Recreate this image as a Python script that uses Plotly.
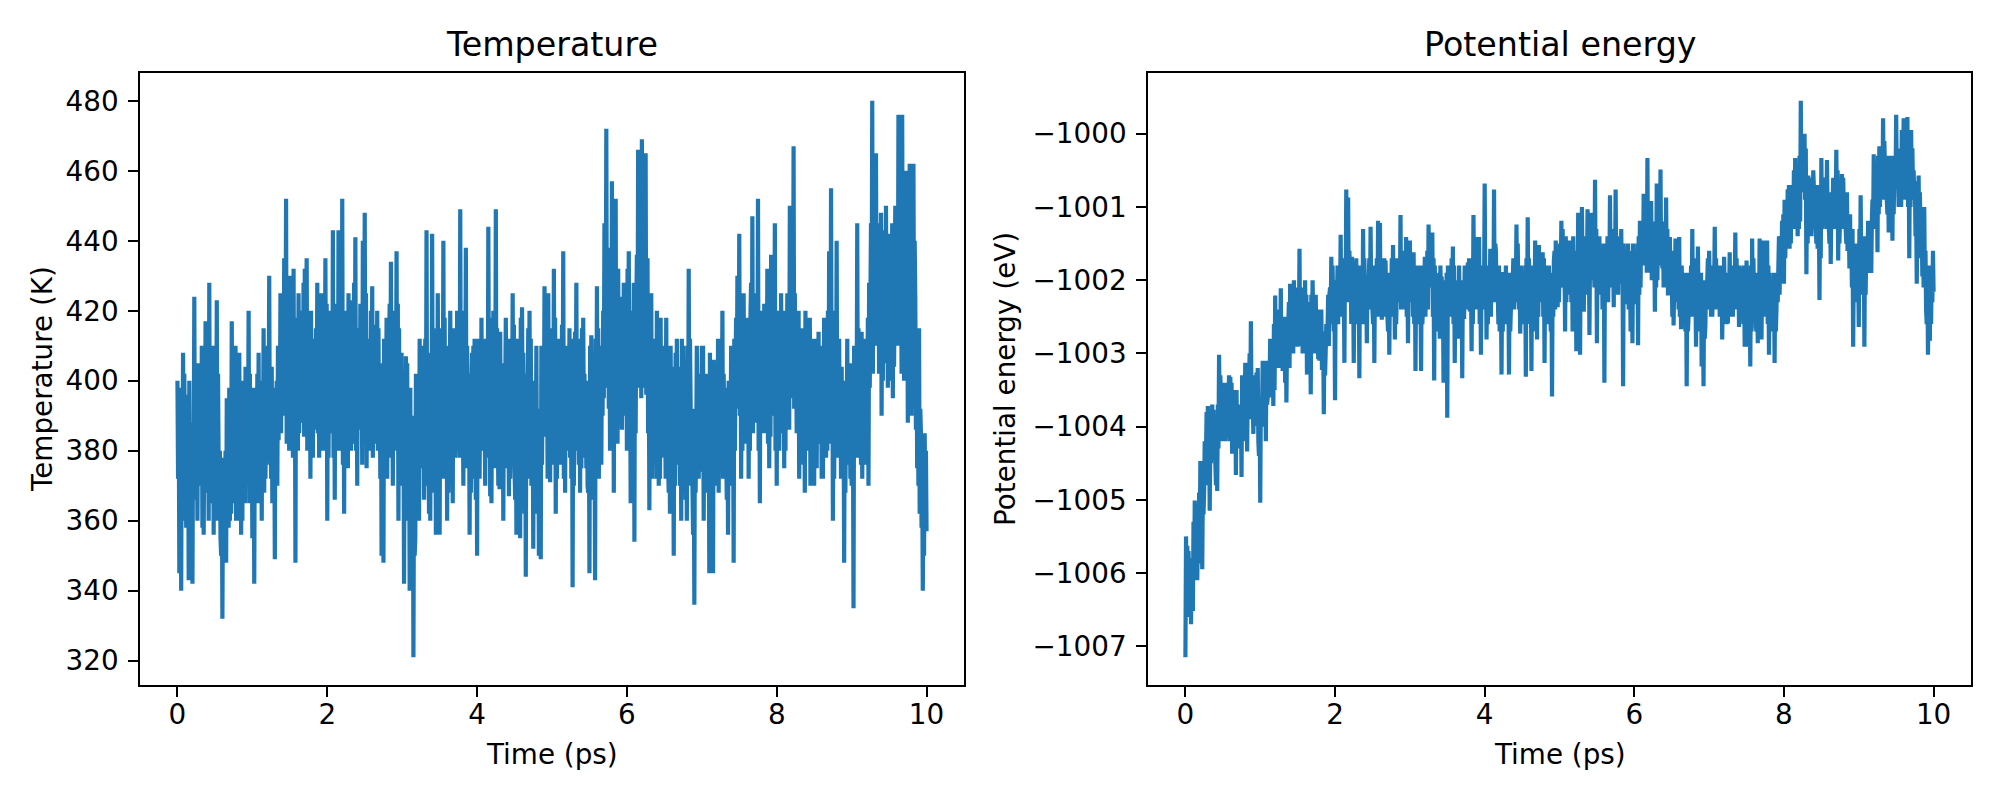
import plotly.graph_objects as go

# Temperature (K) read every 0.025 ps (t = 0, 0.025, ..., 10): local extremes
temperature_K = [
    400, 345, 340, 408, 360, 392, 343, 372, 342, 424,
    370, 405, 372, 410, 356, 417, 372, 428, 378, 410,
    372, 423, 375, 355, 332, 372, 348, 385, 360, 417,
    365, 410, 360, 408, 356, 400, 365, 398, 420, 375,
    355, 342, 378, 365, 385, 360, 415, 372, 405, 430,
    372, 388, 349, 400, 383, 425, 390, 435, 452, 402,
    430, 390, 432, 348, 405, 385, 420, 395, 432, 435,
    385, 372, 410, 390, 415, 385, 390, 425, 380, 435,
    360, 405, 390, 443, 366, 420, 443, 380, 452, 362,
    420, 375, 410, 423, 385, 441, 370, 415, 392, 440,
    448, 375, 410, 380, 427, 385, 415, 380, 400, 350,
    348, 400, 372, 410, 434, 370, 412, 437, 360, 400,
    370, 342, 407, 360, 340, 380, 321, 355, 385, 360,
    410, 375, 390, 443, 385, 360, 442, 375, 356, 425,
    356, 400, 440, 380, 360, 410, 390, 365, 410, 380,
    420, 449, 385, 420, 438, 395, 356, 395, 410, 380,
    350, 400, 385, 410, 390, 380, 444, 367, 400, 375,
    449, 390, 369, 400, 360, 395, 412, 367, 390, 425,
    375, 356, 400, 355, 421, 380, 344, 395, 420, 370,
    352, 388, 365, 350, 349, 400, 427, 385, 425, 371,
    400, 432, 362, 405, 412, 380, 437, 368, 398, 385,
    410, 341, 395, 428, 398, 368, 415, 390, 400, 370,
    345, 413, 385, 343, 427, 372, 405, 390, 445, 472,
    425, 380, 457, 368, 452, 382, 410, 400, 390, 420,
    380, 437, 365, 400, 354, 420, 466, 400, 469, 410,
    465, 435, 363, 425, 408, 380, 420, 370, 418, 385,
    385, 418, 375, 362, 404, 350, 408, 380, 395, 360,
    410, 385, 360, 432, 395, 370, 336, 380, 390, 375,
    410, 360, 400, 380, 345, 388, 345, 395, 405, 368,
    390, 420, 385, 380, 356, 395, 375, 348, 405, 430,
    442, 372, 400, 412, 385, 372, 420, 447, 390, 420,
    452, 365, 400, 385, 396, 432, 375, 436, 390, 445,
    370, 405, 385, 400, 375, 420, 395, 450, 420, 467,
    395, 400, 372, 410, 385, 368, 405, 418, 370, 395,
    370, 406, 385, 400, 372, 395, 415, 380, 437, 455,
    360, 400, 440, 380, 402, 375, 348, 395, 380, 400,
    370, 335, 400, 445, 390, 376, 400, 376, 412, 370,
    420, 480, 415, 465, 410, 445, 390, 443, 420, 440,
    400, 420, 395, 432, 445, 476, 410, 476, 400, 460,
    388, 462, 390, 462, 423, 375, 415, 385, 340, 385,
    357,
]

# Temperature (K): two in-between readings inside each 0.025 ps step
temperature_fill_K = [
    (372, 398), (355, 385), (398, 370), (362, 402), (390, 358), (375, 396), (400, 365), (352, 388), (385, 372), (366, 405),
    (392, 360), (370, 388), (404, 372), (358, 392), (386, 368), (372, 400), (398, 360), (365, 385), (400, 372), (356, 395),
    (390, 370), (360, 402), (368, 380), (350, 378), (372, 355), (362, 380), (395, 368), (358, 398), (388, 362), (375, 390),
    (402, 370), (360, 388), (396, 374), (370, 400), (386, 360), (366, 394), (404, 375), (388, 378), (365, 402), (370, 386),
    (360, 398), (392, 372), (378, 402), (408, 366), (370, 396), (400, 380), (368, 408), (396, 376), (410, 384), (380, 398),
    (404, 365), (376, 392), (398, 378), (370, 410), (402, 385), (385, 415), (408, 390), (420, 395), (382, 425), (412, 380),
    (390, 420), (410, 378), (382, 412), (418, 392), (380, 425), (415, 392), (388, 410), (428, 384), (395, 418), (380, 415),
    (392, 412), (420, 388), (378, 410), (412, 395), (386, 428), (408, 378), (425, 392), (380, 405), (418, 390), (388, 422),
    (412, 378), (392, 420), (410, 385), (378, 415), (422, 392), (415, 380), (390, 426), (408, 386), (376, 412), (420, 395),
    (385, 410), (425, 390), (412, 380), (388, 418), (428, 382), (380, 408), (415, 392), (386, 422), (410, 376), (420, 392),
    (392, 425), (412, 380), (385, 408), (420, 390), (378, 416), (410, 388), (382, 420), (415, 382), (372, 405), (368, 395),
    (412, 375), (388, 418), (408, 382), (422, 392), (378, 412), (420, 388), (410, 395), (380, 422), (415, 376), (372, 408),
    (375, 398), (396, 368), (365, 405), (372, 392), (398, 356), (345, 390), (378, 350), (402, 372), (366, 395), (412, 378),
    (380, 410), (400, 366), (412, 378), (370, 400), (362, 395), (408, 380), (376, 415), (368, 398), (400, 370), (382, 412),
    (405, 372), (415, 385), (372, 418), (380, 400), (402, 368), (385, 420), (370, 396), (415, 380), (378, 405), (420, 386),
    (408, 378), (388, 420), (402, 370), (418, 390), (375, 410), (382, 402), (398, 368), (408, 385), (372, 412), (366, 398),
    (412, 380), (372, 405), (418, 388), (380, 402), (370, 412), (405, 378), (388, 418), (398, 365), (378, 420), (408, 382),
    (385, 415), (370, 398), (414, 380), (372, 405), (402, 375), (418, 386), (376, 400), (412, 372), (405, 388), (382, 416),
    (366, 398), (412, 380), (370, 402), (418, 384), (384, 408), (362, 400), (402, 378), (415, 385), (372, 412), (376, 395),
    (400, 365), (378, 410), (362, 392), (372, 385), (410, 376), (402, 388), (384, 418), (408, 372), (380, 412), (415, 385),
    (402, 376), (386, 418), (412, 372), (405, 388), (376, 410), (416, 385), (372, 402), (410, 380), (384, 405), (415, 378),
    (372, 412), (400, 370), (414, 386), (380, 405), (376, 412), (405, 375), (386, 418), (402, 378), (375, 400), (368, 396),
    (410, 372), (382, 402), (366, 400), (412, 378), (385, 415), (402, 382), (376, 410), (420, 395), (430, 400), (398, 438),
    (392, 420), (425, 385), (398, 430), (418, 392), (385, 428), (432, 398), (395, 418), (386, 424), (428, 400), (392, 420),
    (432, 395), (385, 420), (418, 392), (398, 428), (422, 385), (436, 402), (398, 425), (440, 395), (402, 432), (420, 398),
    (396, 430), (385, 408), (412, 380), (372, 410), (380, 402), (412, 372), (385, 408), (400, 372), (378, 410), (406, 380),
    (408, 372), (380, 402), (368, 398), (410, 380), (372, 396), (402, 370), (384, 412), (398, 376), (370, 404), (412, 380),
    (378, 400), (366, 395), (410, 372), (382, 412), (370, 392), (356, 388), (392, 368), (410, 380), (372, 398), (402, 374),
    (380, 410), (398, 368), (372, 402), (376, 395), (408, 370), (366, 400), (406, 378), (398, 380), (370, 412), (400, 378),
    (412, 385), (372, 402), (378, 398), (366, 395), (400, 372), (382, 410), (370, 395), (412, 380), (418, 392), (425, 395),
    (390, 420), (412, 380), (425, 392), (382, 410), (388, 418), (412, 380), (428, 395), (385, 420), (414, 388), (425, 400),
    (380, 415), (420, 388), (392, 412), (422, 385), (415, 395), (382, 425), (412, 384), (390, 418), (428, 392), (380, 410),
    (420, 388), (380, 412), (425, 392), (388, 408), (420, 380), (394, 425), (418, 386), (398, 430), (428, 395), (392, 425),
    (412, 385), (388, 420), (410, 378), (382, 415), (376, 405), (420, 390), (412, 380), (385, 418), (408, 376), (388, 412),
    (412, 380), (375, 405), (414, 382), (384, 410), (405, 372), (418, 385), (378, 412), (420, 390), (412, 382), (390, 420),
    (402, 372), (418, 385), (378, 408), (412, 382), (372, 404), (380, 400), (398, 368), (385, 412), (402, 376), (372, 405),
    (375, 395), (410, 378), (405, 388), (378, 415), (385, 405), (414, 372), (382, 412), (408, 380), (388, 418), (428, 398),
    (445, 412), (402, 440), (452, 418), (410, 438), (440, 402), (412, 448), (436, 400), (405, 440), (450, 415), (398, 432),
    (442, 410), (412, 445), (438, 404), (450, 420), (445, 410), (418, 452), (440, 402), (408, 446), (435, 400), (410, 442),
    (445, 408), (402, 436), (446, 412), (408, 440), (386, 415), (398, 370), (362, 392), (358, 375), (370, 350), (364, 380),
]

# Potential energy (eV) read every 0.025 ps: local extremes
potential_eV = [
    -1007.15, -1005.63, -1006.2, -1006.7, -1006.52, -1005.01, -1005.6, -1005.87, -1004.47, -1005.95,
    -1004.9, -1004.37, -1003.72, -1005.15, -1004.2, -1003.77, -1004.5, -1004.88, -1003.02, -1003.6,
    -1003.88, -1003.40, -1004.15, -1003.7, -1003.32, -1004.37, -1003.9, -1004.66, -1004.0, -1003.86,
    -1004.69, -1003.5, -1003.13, -1004.34, -1003.5, -1002.56, -1003.7, -1003.99, -1003.26, -1004.2,
    -1005.04, -1003.72, -1003.4, -1004.2, -1003.6, -1003.4, -1002.81, -1003.72, -1002.21, -1003.0,
    -1002.7, -1002.11, -1003.24, -1002.8, -1003.67, -1002.6, -1002.05, -1002.7, -1002.0, -1002.5,
    -1002.91, -1001.57, -1002.81, -1002.3, -1002.0, -1003.29, -1002.6, -1003.56, -1002.0, -1002.27,
    -1002.8, -1003.08, -1002.64, -1003.2, -1003.83, -1002.97, -1002.64, -1002.2, -1001.68, -1002.4,
    -1003.64, -1002.32, -1002.0, -1001.38, -1002.3, -1003.13, -1000.76, -1000.87, -1001.9, -1001.68,
    -1003.13, -1002.16, -1002.05, -1003.34, -1002.6, -1001.30, -1002.3, -1002.86, -1002.0, -1001.27,
    -1002.4, -1003.13, -1002.2, -1001.19, -1001.22, -1002.54, -1002.1, -1001.73, -1002.5, -1003.02,
    -1002.3, -1001.52, -1002.81, -1002.2, -1001.8, -1001.11, -1002.37, -1002.0, -1001.41, -1002.86,
    -1001.46, -1002.1, -1001.62, -1003.24, -1002.5, -1002.05, -1003.24, -1002.4, -1001.68, -1002.2,
    -1001.24, -1001.73, -1001.35, -1003.37, -1002.5, -1002.27, -1002.8, -1001.95, -1003.40, -1002.27,
    -1003.88, -1001.89, -1002.4, -1001.54, -1003.13, -1002.5, -1002.8, -1002.37, -1003.34, -1002.5,
    -1002.2, -1001.76, -1002.4, -1002.97, -1001.11, -1001.41, -1002.2, -1001.41, -1003.02, -1002.0,
    -1000.68, -1002.81, -1002.1, -1001.57, -1002.3, -1000.76, -1001.6, -1002.16, -1002.7, -1003.29,
    -1001.89, -1002.5, -1002.37, -1003.29, -1002.4, -1002.0, -1001.7, -1001.24, -1002.2, -1002.73,
    -1002.3, -1001.95, -1003.32, -1001.14, -1002.2, -1003.24, -1002.3, -1001.46, -1002.81, -1001.52,
    -1002.2, -1001.62, -1003.13, -1002.05, -1002.6, -1002.16, -1003.59, -1001.73, -1001.46, -1002.37,
    -1001.9, -1001.19, -1002.0, -1002.7, -1001.46, -1002.2, -1001.46, -1002.7, -1001.78, -1002.97,
    -1001.08, -1003.02, -1001.0, -1002.43, -1001.7, -1001.03, -1002.75, -1001.08, -1002.0, -1000.63,
    -1002.86, -1002.0, -1001.57, -1002.4, -1003.40, -1001.95, -1002.3, -1000.84, -1001.6, -1002.37,
    -1000.76, -1001.7, -1002.05, -1001.30, -1003.45, -1002.3, -1001.89, -1002.4, -1002.7, -1002.86,
    -1001.73, -1002.3, -1002.89, -1001.19, -1001.6, -1000.82, -1001.3, -1000.33, -1001.68, -1000.92,
    -1001.84, -1002.43, -1000.68, -1001.5, -1000.49, -1001.84, -1001.2, -1000.87, -1002.21, -1001.41,
    -1001.9, -1002.62, -1001.43, -1002.0, -1001.41, -1002.67, -1002.0, -1002.21, -1003.45, -1002.5,
    -1002.37, -1001.30, -1002.2, -1002.91, -1001.54, -1002.4, -1003.18, -1003.45, -1002.62, -1002.0,
    -1001.60, -1002.5, -1002.21, -1001.27, -1002.0, -1002.16, -1001.9, -1002.81, -1001.68, -1002.3,
    -1002.59, -1001.62, -1002.43, -1002.0, -1001.35, -1002.2, -1002.64, -1002.0, -1001.84, -1002.91,
    -1001.73, -1002.91, -1003.18, -1001.43, -1002.2, -1002.64, -1002.86, -1001.43, -1002.81, -1001.46,
    -1002.0, -1001.46, -1003.02, -1002.5, -1002.16, -1003.13, -1002.4, -1001.84, -1001.5, -1001.19,
    -1002.05, -1001.4, -1000.76, -1001.57, -1000.76, -1001.2, -1000.33, -1000.8, -1001.30, -999.55,
    -1000.4, -1000.0, -1001.92, -1000.57, -1001.1, -1000.6, -1000.73, -1001.3, -1001.57, -1002.27,
    -1000.33, -1001.24, -1000.9, -1000.36, -1001.30, -1001.78, -1001.0, -1000.71, -1000.22, -1001.73,
    -1001.1, -1000.55, -1001.0, -1001.30, -1001.6, -1001.84, -1001.35, -1002.91, -1002.05, -1002.3,
    -1002.64, -1000.84, -1001.8, -1002.91, -1001.57, -1001.19, -1001.89, -1001.2, -1000.28, -1001.0,
    -1001.62, -1000.17, -1000.87, -999.79, -1000.5, -1000.92, -1001.35, -1000.8, -1001.46, -1000.49,
    -999.74, -1000.6, -1001.0, -999.95, -999.79, -1000.7, -999.77, -1001.70, -999.95, -1000.8,
    -1000.65, -1002.05, -1000.57, -1001.3, -1001.95, -1001.0, -1002.4, -1003.02, -1002.83, -1001.84,
    -1002.16,
]

# Potential energy (eV): two in-between readings inside each 0.025 ps step
potential_fill_eV = [
    (-1005.5, -1006.4), (-1006.1, -1005.7), (-1006.6, -1005.8), (-1006.0, -1006.3), (-1005.3, -1006.1),
    (-1005.7, -1005.3), (-1006.1, -1005.4), (-1004.9, -1005.6), (-1005.3, -1004.9), (-1004.8, -1005.2),
    (-1004.2, -1004.8), (-1003.8, -1004.4), (-1004.8, -1004.0), (-1004.1, -1004.5), (-1003.7, -1004.3),
    (-1004.4, -1003.9), (-1004.8, -1004.2), (-1003.7, -1004.3), (-1003.8, -1003.3), (-1004.2, -1003.6),
    (-1003.4, -1004.1), (-1004.2, -1003.6), (-1003.6, -1003.9), (-1003.3, -1004.2), (-1003.9, -1003.4),
    (-1003.7, -1004.0), (-1004.3, -1003.5), (-1003.5, -1004.3), (-1003.7, -1004.0), (-1004.0, -1003.7),
    (-1003.3, -1004.2), (-1003.6, -1003.9), (-1004.1, -1003.3), (-1003.5, -1003.8), (-1003.0, -1003.9),
    (-1003.6, -1003.3), (-1004.1, -1003.5), (-1003.3, -1003.8), (-1003.9, -1003.2), (-1004.4, -1003.7),
    (-1003.6, -1004.0), (-1003.1, -1003.8), (-1003.9, -1003.3), (-1003.1, -1003.7), (-1003.2, -1003.6),
    (-1002.8, -1003.6), (-1003.2, -1002.9), (-1002.6, -1003.5), (-1003.1, -1002.5), (-1002.7, -1003.2),
    (-1002.4, -1003.2), (-1003.1, -1002.6), (-1002.5, -1003.0), (-1003.4, -1002.5), (-1002.8, -1003.1),
    (-1002.3, -1003.2), (-1002.8, -1002.4), (-1002.2, -1003.0), (-1002.9, -1002.1), (-1002.7, -1002.4),
    (-1002.3, -1002.7), (-1002.9, -1002.1), (-1002.2, -1003.0), (-1002.4, -1002.7), (-1003.0, -1002.2),
    (-1002.4, -1002.8), (-1003.1, -1002.3), (-1002.2, -1002.7), (-1002.6, -1002.4), (-1003.0, -1002.2),
    (-1002.9, -1002.5), (-1002.4, -1003.1), (-1003.1, -1002.4), (-1003.2, -1002.8), (-1002.7, -1003.3),
    (-1002.6, -1002.9), (-1002.2, -1002.9), (-1002.1, -1002.5), (-1002.6, -1001.8), (-1002.7, -1002.3),
    (-1002.0, -1002.5), (-1001.8, -1002.6), (-1001.9, -1002.3), (-1002.5, -1001.7), (-1002.4, -1002.0),
    (-1001.7, -1002.2), (-1002.0, -1001.2), (-1002.3, -1001.6), (-1001.8, -1002.6), (-1002.4, -1002.0),
    (-1002.0, -1002.4), (-1001.7, -1002.6), (-1002.4, -1002.0), (-1001.8, -1002.4), (-1001.9, -1002.6),
    (-1002.3, -1001.7), (-1002.6, -1002.0), (-1002.0, -1002.3), (-1001.7, -1002.4), (-1002.2, -1001.8),
    (-1002.6, -1001.8), (-1002.0, -1002.4), (-1001.7, -1002.5), (-1002.2, -1001.8), (-1002.5, -1001.7),
    (-1001.9, -1002.3), (-1001.7, -1002.5), (-1002.3, -1001.9), (-1002.7, -1001.9), (-1002.1, -1002.5),
    (-1001.7, -1002.5), (-1002.3, -1001.9), (-1002.0, -1002.6), (-1001.7, -1002.3), (-1001.8, -1002.2),
    (-1002.4, -1001.6), (-1001.8, -1002.4), (-1001.9, -1002.2), (-1002.5, -1001.7), (-1001.9, -1002.3),
    (-1002.2, -1001.8), (-1001.7, -1002.5), (-1002.6, -1001.8), (-1002.0, -1002.5), (-1001.8, -1002.6),
    (-1002.5, -1002.1), (-1001.8, -1002.6), (-1001.9, -1002.3), (-1002.5, -1001.7), (-1001.6, -1002.4),
    (-1002.1, -1001.7), (-1001.8, -1002.1), (-1002.5, -1001.7), (-1001.8, -1002.7), (-1002.0, -1002.4),
    (-1002.7, -1001.9), (-1001.8, -1002.4), (-1002.5, -1002.1), (-1002.0, -1002.5), (-1002.7, -1001.9),
    (-1001.8, -1002.5), (-1002.3, -1001.9), (-1001.7, -1002.5), (-1002.6, -1001.8), (-1002.0, -1002.5),
    (-1002.7, -1002.1), (-1001.8, -1002.6), (-1002.5, -1002.1), (-1002.0, -1002.5), (-1001.8, -1002.3),
    (-1001.9, -1002.2), (-1002.4, -1001.7), (-1002.4, -1002.0), (-1001.7, -1002.6), (-1002.1, -1001.7),
    (-1002.4, -1001.6), (-1001.8, -1002.2), (-1002.6, -1001.8), (-1001.8, -1002.4), (-1001.8, -1002.2),
    (-1002.2, -1001.8), (-1001.8, -1002.6), (-1001.9, -1002.3), (-1002.5, -1001.7), (-1001.8, -1002.3),
    (-1002.3, -1001.5), (-1002.3, -1001.9), (-1002.6, -1001.8), (-1002.6, -1002.2), (-1001.9, -1002.7),
    (-1002.3, -1001.9), (-1001.8, -1002.6), (-1002.5, -1002.1), (-1001.9, -1002.7), (-1002.0, -1002.3),
    (-1001.7, -1002.4), (-1001.8, -1002.1), (-1002.3, -1001.5), (-1002.4, -1002.0), (-1001.8, -1002.6),
    (-1001.9, -1002.3), (-1002.6, -1001.8), (-1001.7, -1002.6), (-1002.3, -1001.7), (-1002.4, -1002.0),
    (-1001.8, -1002.7), (-1001.9, -1002.3), (-1002.5, -1001.7), (-1001.7, -1002.5), (-1002.2, -1001.8),
    (-1001.9, -1002.3), (-1002.5, -1001.7), (-1001.8, -1002.6), (-1002.4, -1002.0), (-1001.8, -1002.6),
    (-1002.7, -1001.9), (-1002.0, -1002.5), (-1001.6, -1002.4), (-1002.3, -1001.7), (-1001.9, -1002.3),
    (-1001.5, -1001.9), (-1002.1, -1001.3), (-1002.1, -1001.7), (-1001.4, -1002.3), (-1002.0, -1001.6),
    (-1001.6, -1002.2), (-1002.3, -1001.5), (-1001.4, -1002.0), (-1002.1, -1001.7), (-1001.6, -1002.2),
    (-1002.2, -1001.4), (-1001.6, -1002.1), (-1002.0, -1001.6), (-1001.4, -1002.2), (-1001.5, -1001.9),
    (-1002.2, -1001.4), (-1001.6, -1002.0), (-1001.9, -1001.5), (-1001.3, -1002.1), (-1002.1, -1001.3),
    (-1001.6, -1002.1), (-1001.4, -1002.2), (-1002.0, -1001.6), (-1002.3, -1001.5), (-1001.6, -1002.1),
    (-1002.0, -1001.4), (-1001.5, -1001.9), (-1002.1, -1001.3), (-1002.0, -1001.6), (-1001.3, -1002.1),
    (-1001.9, -1001.5), (-1002.2, -1001.4), (-1001.6, -1002.0), (-1002.0, -1001.6), (-1001.5, -1002.3),
    (-1001.6, -1002.0), (-1002.3, -1001.5), (-1002.1, -1001.7), (-1002.4, -1001.6), (-1001.5, -1002.3),
    (-1002.0, -1001.6), (-1002.3, -1001.5), (-1001.4, -1002.2), (-1002.1, -1001.3), (-1001.4, -1001.8),
    (-1001.8, -1001.4), (-1001.1, -1001.9), (-1001.9, -1001.1), (-1001.4, -1001.8), (-1002.0, -1001.2),
    (-1001.9, -1001.5), (-1001.3, -1002.1), (-1002.0, -1001.2), (-1001.4, -1001.8), (-1001.8, -1001.4),
    (-1001.3, -1002.1), (-1001.4, -1001.8), (-1002.1, -1001.3), (-1001.6, -1002.0), (-1002.0, -1001.6),
    (-1002.5, -1001.8), (-1002.0, -1002.3), (-1002.3, -1001.8), (-1001.7, -1002.4), (-1002.5, -1002.0),
    (-1001.8, -1002.3), (-1002.4, -1001.9), (-1002.7, -1002.0), (-1001.9, -1002.7), (-1002.0, -1002.3),
    (-1001.8, -1002.5), (-1002.4, -1001.7), (-1002.4, -1002.1), (-1001.8, -1002.6), (-1002.3, -1002.0),
    (-1002.7, -1001.9), (-1002.6, -1002.2), (-1002.0, -1002.8), (-1002.0, -1002.3), (-1001.7, -1002.4),
    (-1002.2, -1001.9), (-1001.8, -1002.5), (-1001.9, -1002.2), (-1002.4, -1001.7), (-1002.3, -1002.0),
    (-1001.8, -1002.5), (-1002.4, -1002.1), (-1001.8, -1002.6), (-1002.3, -1002.0), (-1002.6, -1001.9),
    (-1002.0, -1002.3), (-1002.5, -1001.8), (-1001.8, -1002.5), (-1001.9, -1002.2), (-1002.4, -1001.7),
    (-1002.4, -1002.0), (-1001.8, -1002.5), (-1001.9, -1002.2), (-1002.6, -1001.8), (-1001.8, -1002.6),
    (-1002.4, -1002.0), (-1002.8, -1002.0), (-1001.8, -1002.7), (-1002.5, -1001.7), (-1002.4, -1002.0),
    (-1002.7, -1001.9), (-1002.0, -1002.4), (-1002.6, -1001.8), (-1001.9, -1002.4), (-1002.5, -1001.7),
    (-1001.9, -1002.3), (-1002.6, -1001.8), (-1001.9, -1002.7), (-1002.0, -1002.4), (-1002.7, -1001.9),
    (-1001.9, -1002.7), (-1001.9, -1002.3), (-1001.4, -1002.2), (-1001.4, -1001.8), (-1001.9, -1001.1),
    (-1000.9, -1001.7), (-1001.0, -1001.4), (-1001.5, -1000.7), (-1000.7, -1001.5), (-1001.2, -1000.8),
    (-1000.5, -1001.3), (-1001.1, -1000.7), (-1001.4, -1000.6), (-1000.3, -1001.2), (-1000.8, -1000.3),
    (-1000.3, -1000.7), (-1000.9, -1000.2), (-1000.7, -1001.5), (-1001.1, -1000.7), (-1000.6, -1001.4),
    (-1001.3, -1000.5), (-1001.2, -1000.8), (-1001.5, -1000.7), (-1001.5, -1001.1), (-1000.8, -1001.7),
    (-1001.3, -1000.6), (-1000.9, -1001.2), (-1000.6, -1001.3), (-1001.1, -1000.8), (-1001.5, -1000.8),
    (-1001.0, -1001.3), (-1000.6, -1001.3), (-1000.7, -1001.0), (-1001.3, -1000.5), (-1000.8, -1001.5),
    (-1000.9, -1001.2), (-1001.3, -1000.6), (-1001.2, -1000.9), (-1001.5, -1000.8), (-1001.5, -1001.2),
    (-1001.1, -1001.8), (-1002.1, -1001.3), (-1001.8, -1002.2), (-1002.3, -1001.5), (-1002.2, -1001.8),
    (-1001.3, -1002.1), (-1001.8, -1001.4), (-1002.2, -1001.4), (-1001.4, -1002.2), (-1001.4, -1001.8),
    (-1001.9, -1001.2), (-1001.2, -1001.9), (-1000.9, -1001.3), (-1001.2, -1000.4), (-1001.1, -1000.7),
    (-1000.3, -1001.1), (-1001.0, -1000.2), (-1000.4, -1000.8), (-1000.9, -1000.1), (-1000.8, -1000.4),
    (-1001.1, -1000.3), (-1000.5, -1000.9), (-1001.1, -1000.3), (-1000.3, -1001.1), (-1000.3, -1000.7),
    (-1000.7, -1000.3), (-1001.0, -1000.2), (-1000.2, -1001.0), (-1000.3, -1000.6), (-1000.9, -1000.1),
    (-1000.3, -1000.7), (-1001.0, -1000.2), (-1000.2, -1001.0), (-1000.9, -1000.2), (-1000.5, -1000.9),
    (-1001.4, -1001.0), (-1000.9, -1001.7), (-1001.6, -1000.8), (-1001.7, -1001.3), (-1001.3, -1002.1),
    (-1002.0, -1001.6), (-1002.6, -1001.8), (-1002.2, -1002.6), (-1001.8, -1002.6), (-1002.3, -1001.6),
]

dt_ps = 0.025


def merge(main, fill):
    out = []
    for a, (m1, m2) in zip(main, fill):
        out.extend([a, m1, m2])
    out.append(main[-1])
    return out


temp_series = merge(temperature_K, temperature_fill_K)
pe_series = merge(potential_eV, potential_fill_eV)
time_ps = [i * dt_ps / 3 for i in range(len(temp_series))]

x_ticks = [0, 2, 4, 6, 8, 10]
temp_ticks = [320, 340, 360, 380, 400, 420, 440, 460, 480]
pe_ticks = [-1007, -1006, -1005, -1004, -1003, -1002, -1001, -1000]
pe_ticklabels = ["\u2212" + str(abs(v)) for v in pe_ticks]

titles = ["Temperature", "Potential energy"]
x_label = "Time (ps)"
y_labels = ["Temperature (K)", "Potential energy (eV)"]


def padded(vals, frac=0.05):
    lo, hi = min(vals), max(vals)
    pad = (hi - lo) * frac
    return [lo - pad, hi + pad]


BLUE = "#1f77b4"
FONT = "DejaVu Sans"
TICK_SIZE = 27.8
TITLE_SIZE = 33.3

fig = go.Figure()
fig.add_trace(go.Scatter(x=time_ps, y=temp_series, mode="lines",
                         line=dict(color=BLUE, width=4.2, simplify=False),
                         xaxis="x", yaxis="y"))
fig.add_trace(go.Scatter(x=time_ps, y=pe_series, mode="lines",
                         line=dict(color=BLUE, width=4.2, simplify=False),
                         xaxis="x2", yaxis="y2"))

common = dict(showline=True, mirror=True, linecolor="black", linewidth=2.2,
              ticks="outside", ticklen=9.7, tickwidth=2.2, tickcolor="black",
              showgrid=False, zeroline=False,
              tickfont=dict(family=FONT, size=TICK_SIZE, color="black"))

dom_y = [0.14375, 0.90875]
dom_x1 = [0.07, 0.482]
dom_x2 = [0.574, 0.9855]

fig.update_layout(
    width=2000, height=800,
    margin=dict(l=0, r=0, t=0, b=0),
    paper_bgcolor="white", plot_bgcolor="white",
    showlegend=False,
    xaxis=dict(domain=dom_x1, anchor="y", range=[-0.5, 10.5],
               tickvals=x_ticks, ticklabelstandoff=-6, **common),
    yaxis=dict(domain=dom_y, anchor="x", range=padded(temp_series),
               tickvals=temp_ticks, ticklabelstandoff=4, **common),
    xaxis2=dict(domain=dom_x2, anchor="y2", range=[-0.5, 10.5],
                tickvals=x_ticks, ticklabelstandoff=-6, **common),
    yaxis2=dict(domain=dom_y, anchor="x2", range=padded(pe_series),
                tickvals=pe_ticks, ticktext=pe_ticklabels,
                ticklabelstandoff=4, **common),
)

ann = []
for dom, title, ylab, xpos in [(dom_x1, titles[0], y_labels[0], 0.021),
                               (dom_x2, titles[1], y_labels[1], 0.5025)]:
    cx = (dom[0] + dom[1]) / 2
    ann.append(dict(text=title, x=cx, y=0.945, xref="paper", yref="paper",
                    xanchor="center", yanchor="middle", showarrow=False,
                    font=dict(family=FONT, size=TITLE_SIZE, color="black")))
    ann.append(dict(text=x_label, x=cx, y=0.0575, xref="paper", yref="paper",
                    xanchor="center", yanchor="middle", showarrow=False,
                    font=dict(family=FONT, size=TICK_SIZE, color="black")))
    ann.append(dict(text=ylab, x=xpos, y=(dom_y[0] + dom_y[1]) / 2,
                    xref="paper", yref="paper", textangle=-90,
                    xanchor="center", yanchor="middle", showarrow=False,
                    font=dict(family=FONT, size=TICK_SIZE, color="black")))
fig.update_layout(annotations=ann)

fig.write_html("out.html")
